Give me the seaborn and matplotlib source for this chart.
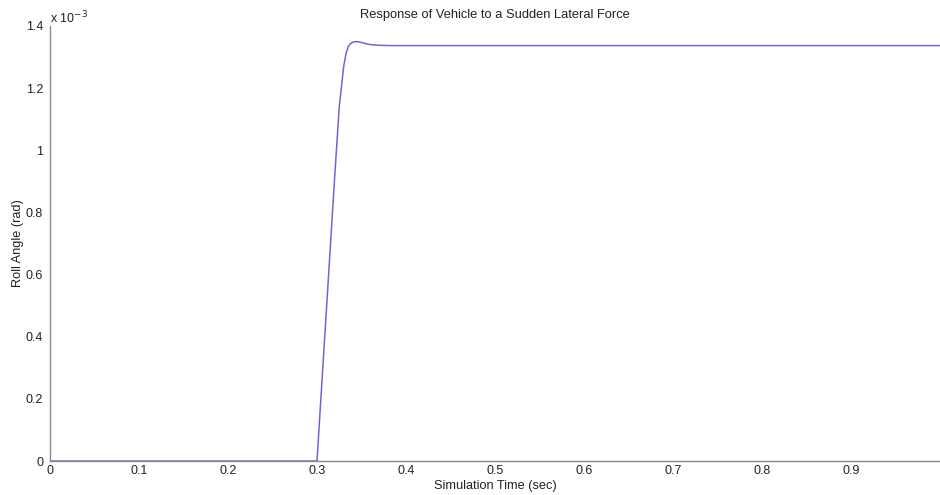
import numpy as np
import pandas as pd
import matplotlib
matplotlib.use("Agg")
import matplotlib.pyplot as plt
import seaborn as sns
from matplotlib.ticker import FuncFormatter

# Data (time in s, roll angle in rad)
time_s = [0.0, 0.100, 0.200, 0.300, 0.305, 0.310, 0.315, 0.320, 0.325, 0.330,
          0.3325, 0.335, 0.3375, 0.340, 0.345, 0.350, 0.355, 0.360, 0.370, 0.380,
          0.400, 0.600, 0.800, 1.000]
roll_rad = [0.0, 0.0, 0.0, 0.0, 0.23e-3, 0.46e-3, 0.69e-3, 0.92e-3, 1.14e-3, 1.27e-3,
            1.31e-3, 1.333e-3, 1.343e-3, 1.348e-3, 1.350e-3, 1.347e-3, 1.343e-3,
            1.340e-3, 1.338e-3, 1.337e-3, 1.337e-3, 1.337e-3, 1.337e-3, 1.337e-3]
x_ticks = [0.0, 0.1, 0.2, 0.3, 0.4, 0.5, 0.6, 0.7, 0.8, 0.9]
y_ticks = [0.0, 0.2e-3, 0.4e-3, 0.6e-3, 0.8e-3, 1.0e-3, 1.2e-3, 1.4e-3]

title = "Response of Vehicle to a Sudden Lateral Force"
x_label = "Simulation Time (sec)"
y_label = "Roll Angle (rad)"

df = pd.DataFrame({"t": time_s, "roll": roll_rad})

sns.set_style("white")
plt.rcParams["font.family"] = ["Liberation Sans", "DejaVu Sans"]

fig = plt.figure(figsize=(9.4, 4.95), dpi=100)
ax = fig.add_axes([50 / 940, (495 - 461) / 495, 1 - 50 / 940, (461 - 26) / 495])

sns.lineplot(data=df, x="t", y="roll", ax=ax, color="#6868d4", linewidth=1.1)

ax.set_xlim(0, 1.0)
ax.set_ylim(0, 1.4e-3)
ax.set_xticks(x_ticks)
ax.set_yticks(y_ticks)
ax.xaxis.set_major_formatter(FuncFormatter(lambda v, p: "%g" % round(v, 3)))
ax.yaxis.set_major_formatter(FuncFormatter(lambda v, p: "%g" % round(v * 1e3, 3)))

for side in ["top", "right"]:
    ax.spines[side].set_visible(False)
for side in ["left", "bottom"]:
    ax.spines[side].set_color("#8a8a8a")
    ax.spines[side].set_linewidth(1.0)

ax.tick_params(axis="both", direction="in", length=4, width=0.8, color="#8a8a8a",
               labelsize=9, labelcolor="#222222", pad=3)
ax.tick_params(axis="y", pad=5)

ax.set_title(title, fontsize=9.3, color="#222222", pad=6)
ax.set_xlabel(x_label, fontsize=9.2, color="#222222", labelpad=2)
ax.set_ylabel(y_label, fontsize=9.2, color="#222222", labelpad=1)

ax.text(0.0, 1.0, r"x 10$^{-3}$", transform=ax.transAxes, fontsize=9,
        color="#222222", ha="left", va="bottom")

fig.savefig("out.png", dpi=100)
